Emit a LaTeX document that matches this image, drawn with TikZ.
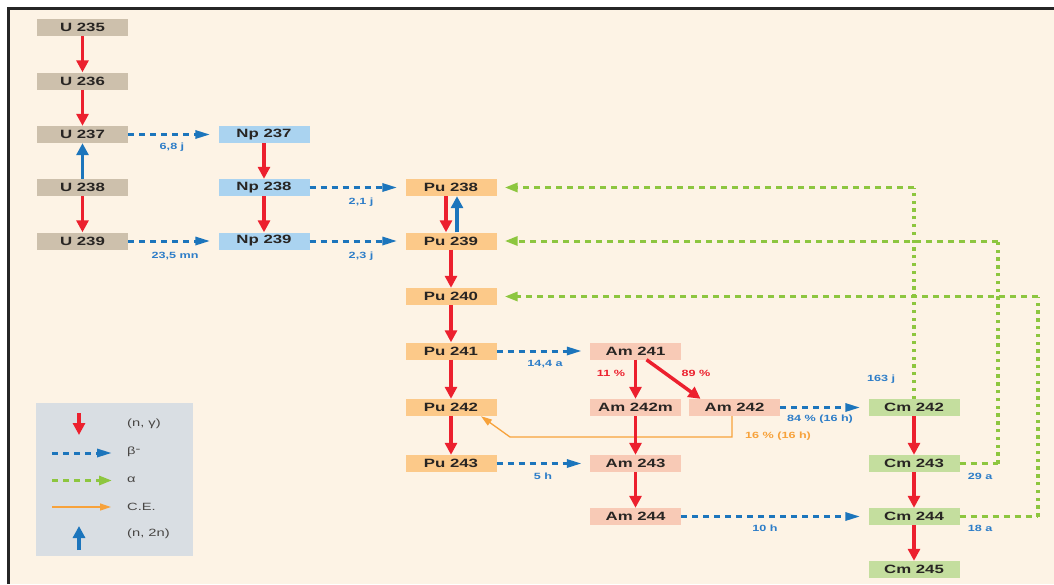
\documentclass[tikz,border=0pt]{standalone}
\usepackage{fontspec}
\usetikzlibrary{arrows.meta}
\newfontfamily\diafont[FakeStretch=1.4]{Liberation Sans}
\definecolor{bgcol}{RGB}{253,243,229}
\definecolor{ucol}{RGB}{205,192,172}
\definecolor{npcol}{RGB}{170,211,240}
\definecolor{pucol}{RGB}{252,201,137}
\definecolor{amcol}{RGB}{248,202,182}
\definecolor{cmcol}{RGB}{196,222,158}
\definecolor{redcol}{RGB}{236,32,46}
\definecolor{bluecol}{RGB}{28,117,188}
\definecolor{lblcol}{RGB}{45,125,200}
\definecolor{greencol}{RGB}{141,198,63}
\definecolor{orcol}{RGB}{247,162,59}
\definecolor{legcol}{RGB}{217,222,227}
\definecolor{txtcol}{RGB}{40,37,35}
\begin{document}
\begin{tikzpicture}[x=1pt,y=-1pt,
  nuc/.style={minimum width=91pt, minimum height=17pt, inner sep=0pt, text=txtcol,
    font=\diafont\bfseries\fontsize{12}{13}\selectfont},
  uran/.style={nuc, fill=ucol},
  nept/.style={nuc, fill=npcol},
  plut/.style={nuc, fill=pucol},
  amer/.style={nuc, fill=amcol},
  curi/.style={nuc, fill=cmcol},
  capt/.style={inner sep=0pt, text=lblcol, font=\diafont\bfseries\fontsize{9}{10}\selectfont},
  legtxt/.style={right, inner sep=0pt, text=txtcol!85, font=\diafont\fontsize{10.5}{11}\selectfont},
  ngam/.style={draw=redcol, line width=3.5pt, -{Triangle[width=12pt,length=12pt]}},
  ntwo/.style={draw=bluecol, line width=3.5pt, -{Triangle[width=12pt,length=12pt]}},
  betaarr/.style={draw=bluecol, line width=3pt, dash pattern=on 6pt off 5pt,
    shorten >=8pt, -{Triangle[width=8pt,length=15pt]}},
  alphah/.style={draw=greencol, line width=3pt, dash pattern=on 6pt off 5pt},
  alphav/.style={draw=greencol, line width=3.3pt, dash pattern=on 3.3pt off 4.5pt},
  alphaarr/.style={alphah, shorten >=8pt, -{Triangle[width=9pt,length=13pt]}},
  cearr/.style={draw=orcol, line width=1.3pt, -{Triangle[width=7pt,length=11pt]}}]
\useasboundingbox (0,0) rectangle (1054,584);
\fill[white] (0,0) rectangle (1054,584);
\fill[bgcol] (9,9) rectangle (1054,584);
\draw[line width=2.7pt, black!85] (8.7,584) -- (8.7,8.7) -- (1054,8.7);

% nuclides
\node[uran] (u235) at (82.5,27.5) {U 235};
\node[uran] (u236) at (82.5,81) {U 236};
\node[uran] (u237) at (82.5,134.5) {U 237};
\node[uran] (u238) at (82.5,187.5) {U 238};
\node[uran] (u239) at (82.5,241) {U 239};
\node[nept] (np237) at (264,134.5) {Np 237};
\node[nept] (np238) at (264,187.5) {Np 238};
\node[nept] (np239) at (264,241) {Np 239};
\node[plut] (pu238) at (451,187.5) {Pu 238};
\node[plut] (pu239) at (451,241) {Pu 239};
\node[plut] (pu240) at (451,296.5) {Pu 240};
\node[plut] (pu241) at (451,351) {Pu 241};
\node[plut] (pu242) at (451,407.5) {Pu 242};
\node[plut] (pu243) at (451,463.5) {Pu 243};
\node[amer] (am241) at (635.5,351) {Am 241};
\node[amer] (am242m) at (635.5,407.5) {Am 242m};
\node[amer] (am242) at (734.5,407.5) {Am 242};
\node[amer] (am243) at (635.5,463.5) {Am 243};
\node[amer] (am244) at (635.5,516.5) {Am 244};
\node[curi] (cm242) at (914,407.5) {Cm 242};
\node[curi] (cm243) at (914,463.5) {Cm 243};
\node[curi] (cm244) at (914,516.5) {Cm 244};
\node[curi] (cm245) at (914,569.5) {Cm 245};

% alpha
\coordinate (g1) at (914,187.5);
\coordinate (g2) at (998,463.5);
\coordinate (g3) at (998,241);
\coordinate (g4) at (1038,516.5);
\coordinate (g5) at (1038,296.5);
\draw[alphav] (cm242) -- (g1);
\draw[alphaarr] (g1) -- (pu238);
\draw[alphah] (cm243) -- (g2);
\draw[alphav] (g2) -- (g3);
\draw[alphaarr] (g3) -- (pu239);
\draw[alphah] (cm244) -- (g4);
\draw[alphav] (g4) -- (g5);
\draw[alphaarr] (g5) -- (pu240);

% C.E.
\coordinate (ce1) at (510,437);
\draw[cearr] ([xshift=-2.5pt]am242.south) |- (ce1) -- ([xshift=30pt]pu242.south);

% (n,gamma) and (n,2n)
\draw[ngam] (u235) -- (u236);
\draw[ngam] (u236) -- (u237);
\draw[ngam] (u238) -- (u239);
\draw[ntwo] (u238) -- (u237);
\draw[ngam] (np237) -- (np238);
\draw[ngam] (np238) -- (np239);
\draw[ngam] ([xshift=-5pt]pu238.south) -- ([xshift=-5pt]pu239.north);
\draw[ntwo] ([xshift=6pt]pu239.north) -- ([xshift=6pt]pu238.south);
\draw[ngam] (pu239) -- (pu240);
\draw[ngam] (pu240) -- (pu241);
\draw[ngam] (pu241) -- (pu242);
\draw[ngam] (pu242) -- (pu243);
\draw[ngam] (am241) -- (am242m);
\draw[ngam] ([xshift=11pt]am241.south) -- ([xshift=-34pt]am242.north);
\draw[ngam] (am242m) -- (am243);
\draw[ngam] (am243) -- (am244);
\draw[ngam] (cm242) -- (cm243);
\draw[ngam] (cm243) -- (cm244);
\draw[ngam] (cm244) -- (cm245);

% beta-
\draw[betaarr] (u237) -- (np237);
\draw[betaarr] (u239) -- (np239);
\draw[betaarr] (np238) -- (pu238);
\draw[betaarr] (np239) -- (pu239);
\draw[betaarr] (pu241) -- (am241);
\draw[betaarr] (pu243) -- (am243);
\draw[betaarr] (am242) -- (cm242);
\draw[betaarr] (am244) -- (cm244);

% labels
\node[capt] (t1) at (172,147.5) {6,8 j};
\node[capt] (t2) at (175,256) {23,5 mn};
\node[capt] (t3) at (361,202) {2,1 j};
\node[capt] (t4) at (361,256) {2,3 j};
\node[capt] (t5) at (545,364.5) {14,4 a};
\node[capt, text=redcol] (t6) at (611,373) {11 \%};
\node[capt, text=redcol] (t7) at (696,373) {89 \%};
\node[capt] (t8) at (820,419.5) {84 \% (16 h)};
\node[capt, text=orcol] (t9) at (778,436.5) {16 \% (16 h)};
\node[capt] (t10) at (881,379.5) {163 j};
\node[capt] (t11) at (543,476) {5 h};
\node[capt] (t12) at (765,528.5) {10 h};
\node[capt] (t13) at (980,476) {29 a};
\node[capt] (t14) at (980,528.5) {18 a};

% legend
\fill[legcol] (36,403) rectangle (193,556);
\coordinate (l1a) at (79,413);
\coordinate (l1b) at (79,435);
\coordinate (l2a) at (52,453);
\coordinate (l2b) at (120,453);
\coordinate (l3a) at (52,480.5);
\coordinate (l3b) at (120,480.5);
\coordinate (l4a) at (52,507);
\coordinate (l4b) at (111,507);
\coordinate (l5a) at (79,550);
\coordinate (l5b) at (79,526);
\draw[ngam] (l1a) -- (l1b);
\draw[betaarr] (l2a) -- (l2b);
\draw[alphaarr] (l3a) -- (l3b);
\draw[cearr] (l4a) -- (l4b);
\draw[ntwo] (l5a) -- (l5b);
\node[legtxt] (k1) at (127,424) {(n, γ)};
\node[legtxt] (k2) at (127,452) {β\raisebox{2.5pt}{-}};
\node[legtxt] (k3) at (127,479.5) {α};
\node[legtxt] (k4) at (127,506.5) {C.E.};
\node[legtxt] (k5) at (127,534) {(n, 2n)};
\end{tikzpicture}
\end{document}
